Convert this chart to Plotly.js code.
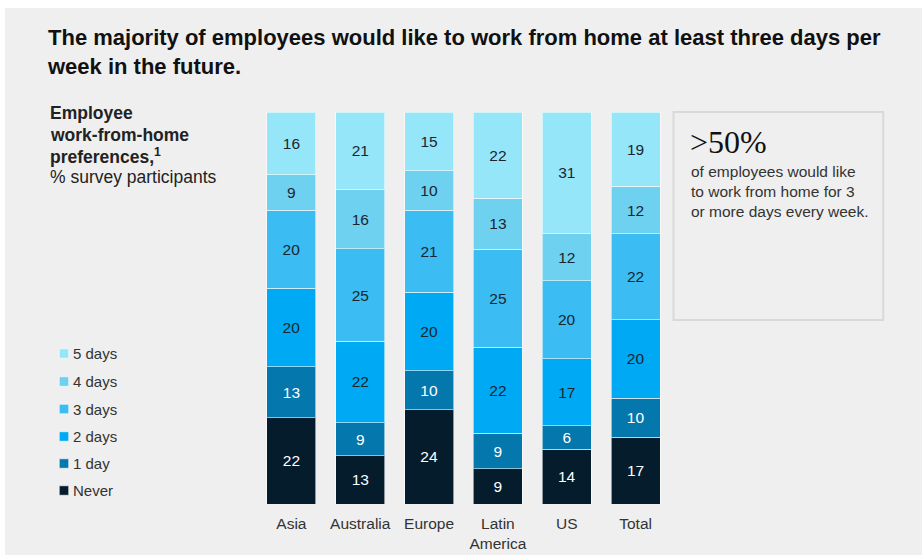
<!DOCTYPE html>
<html>
<head>
<meta charset="utf-8">
<script src="https://cdn.plot.ly/plotly-3.0.1.min.js"></script>
<style>
  html, body { margin: 0; padding: 0; background: #ffffff; width: 922px; height: 558px; overflow: hidden; }
  #chart { position: absolute; left: 5px; top: 8px; width: 917px; height: 547px; }
</style>
</head>
<body>
<div id="chart"></div>
<script>
// ---- Data ----
const regions = ["Asia", "Australia", "Europe", "Latin<br>America", "US", "Total"];
const seriesNames = ["Never", "1 day", "2 days", "3 days", "4 days", "5 days"];
const never   = [22, 13, 24,  9, 14, 17];
const oneDay  = [13,  9, 10,  9,  6, 10];
const twoDays = [20, 22, 20, 22, 17, 20];
const threeDays = [20, 25, 21, 25, 20, 22];
const fourDays  = [ 9, 16, 10, 13, 12, 12];
const fiveDays  = [16, 21, 15, 22, 31, 19];

const seriesValues = [never, oneDay, twoDays, threeDays, fourDays, fiveDays];
const seriesColors = ["#051c2c", "#0477ad", "#00a9f4", "#3bbcf2", "#6fd1f0", "#96e6f9"];
const labelColors  = ["#ffffff", "#ffffff", "#1b2530", "#1b2530", "#1b2530", "#1b2530"];

const subtitleLines = ["<b>Employee</b>", "<b>work-from-home</b>", "<b>preferences,<sup>1</sup></b>", "% survey participants"];

// ---- Geometry helpers (pixel -> paper) ----
const W = 917, H = 547;
const M = { l: 252, r: 251.5, t: 104, b: 51 };
const PW = W - M.l - M.r, PH = H - M.t - M.b;
const px = x => (x - M.l) / PW;
const py = y => 1 - (y - M.t) / PH;

const traces = seriesNames.map((name, i) => ({
  type: "bar",
  name: name,
  x: regions,
  y: seriesValues[i],
  text: seriesValues[i].map(String),
  texttemplate: "%{text}",
  textposition: "inside",
  insidetextanchor: "middle",
  textangle: 0,
  constraintext: "none",
  insidetextfont: { family: "Liberation Sans, Arial, sans-serif", size: 15.5, color: labelColors[i] },
  marker: { color: seriesColors[i], line: { color: "rgba(255,255,255,0.55)", width: 1 } },
  hoverinfo: "skip",
  showlegend: false
}));

const textFont = "Liberation Sans, Arial, sans-serif";
const annotations = [
  {
    text: "<b>The majority of employees would like to work from home at least three days per<br>week in the future.</b>",
    xref: "paper", yref: "paper", x: px(40), y: py(15), xanchor: "left", yanchor: "top",
    align: "left", showarrow: false,
    font: { family: "Liberation Sans Narrow, Liberation Sans, Arial, sans-serif", size: 22, color: "#111111" }
  },
  {
    text: "&gt;50%",
    xref: "paper", yref: "paper", x: px(684), y: py(114), xanchor: "left", yanchor: "top",
    align: "left", showarrow: false,
    font: { family: "Liberation Serif, Times New Roman, serif", size: 32, color: "#111111" }
  },
  {
    text: "of employees would like<br>to work from home for 3<br>or more days every week.",
    xref: "paper", yref: "paper", x: px(685), y: py(153), xanchor: "left", yanchor: "top",
    align: "left", showarrow: false,
    font: { family: textFont, size: 15.5, color: "#333333" }
  }
];

// Subtitle lines at the reference's line spacing
const subtitleCenters = [105, 126.5, 148, 168.5];
subtitleLines.forEach((t, i) => {
  annotations.push({
    text: t, xref: "paper", yref: "paper", x: px(43), y: py(subtitleCenters[i]),
    xanchor: "left", yanchor: "middle", align: "left", showarrow: false,
    font: { family: textFont, size: 17.5, color: "#222222" }
  });
});

const shapes = [
  {
    type: "rect", xref: "paper", yref: "paper",
    x0: px(669), x1: px(879), y0: py(104), y1: py(312),
    line: { color: "#d9d9d9", width: 2 }, fillcolor: "rgba(0,0,0,0)"
  }
];

// Manual legend (top: 5 days ... bottom: Never)
const legendCenters = [482.5, 455.5, 428.5, 401, 373.5, 345.5]; // Never..5 days, div px
seriesNames.forEach((name, i) => {
  const cy = legendCenters[i];
  shapes.push({
    type: "rect", xref: "paper", yref: "paper",
    x0: px(54), x1: px(63.5), y0: py(cy - 4.75), y1: py(cy + 4.75),
    line: { color: "rgba(255,255,255,0.6)", width: 1 }, fillcolor: seriesColors[i]
  });
  annotations.push({
    text: name, xref: "paper", yref: "paper", x: px(66), y: py(cy),
    xanchor: "left", yanchor: "middle", showarrow: false, align: "left",
    font: { family: textFont, size: 15, color: "#333333" }
  });
});

const layout = {
  width: W, height: H,
  margin: M,
  paper_bgcolor: "#efefef",
  plot_bgcolor: "#efefef",
  barmode: "stack",
  barnorm: "percent",
  bargap: 0.29,
  showlegend: false,
  xaxis: {
    type: "category",
    showgrid: false, zeroline: false, showline: false, ticks: "",
    ticklabelstandoff: 8,
    tickfont: { family: textFont, size: 15.5, color: "#333333" },
    fixedrange: true
  },
  yaxis: {
    range: [0, 100], showgrid: false, zeroline: false, showline: false,
    showticklabels: false, ticks: "", fixedrange: true
  },
  annotations: annotations,
  shapes: shapes,
  font: { family: textFont }
};

Plotly.newPlot("chart", traces, layout, { staticPlot: true, displayModeBar: false });
</script>
</body>
</html>
